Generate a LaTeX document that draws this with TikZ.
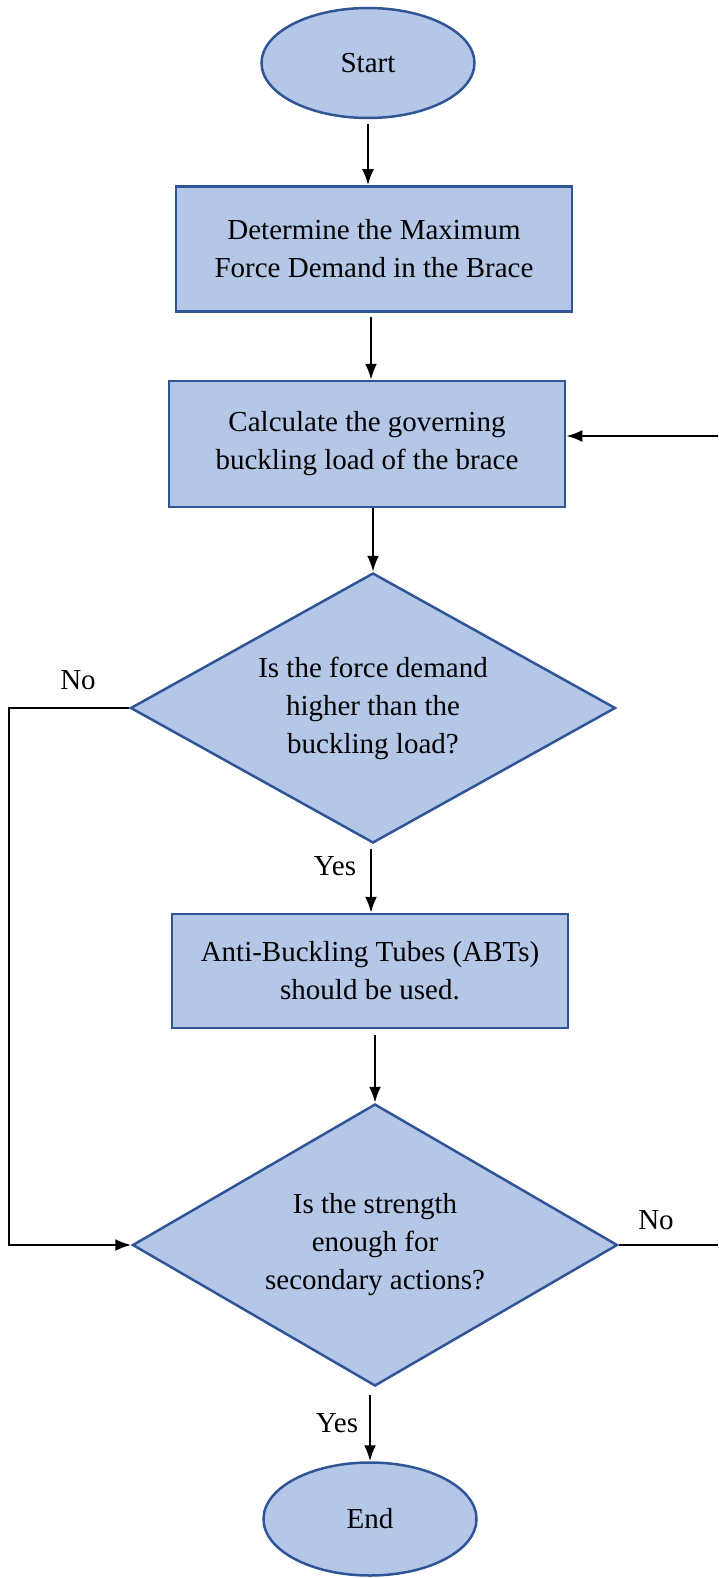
\documentclass[tikz,border=0pt]{standalone}
\usepackage{fontspec}
\setmainfont{Liberation Serif}
\usetikzlibrary{shapes.geometric,arrows.meta}
\definecolor{boxfill}{HTML}{B4C7E7}
\definecolor{boxline}{HTML}{2F5597}
\tikzset{
  flow/.style={draw=boxline, fill=boxfill, line width=2.5pt, align=center, inner sep=0pt},
  terminal/.style={flow, ellipse, minimum width=213pt, minimum height=110pt},
  process/.style={flow, rectangle, minimum width=396pt, minimum height=125pt},
  decision/.style={flow, diamond, aspect=1.8, minimum width=485pt, minimum height=270pt},
  arrow/.style={line width=2.3pt, -{Latex[length=16pt,width=12pt]}},
  link/.style={line width=2.3pt}
}
\begin{document}
\begin{tikzpicture}[x=1pt, y=-1pt, font=\fontsize{29}{38}\selectfont]
  \useasboundingbox (0,0) rectangle (718,1578);
  \node [terminal] (start) at (368,63) {Start};
  \node [process] (maxforce) at (374,249) {Determine the Maximum\\Force Demand in the Brace};
  \node [process, minimum height=126pt] (buckling) at (367,444) {Calculate the governing\\buckling load of the brace};
  \node [decision] (higher) at (373,708) {Is the force demand\\higher than the\\buckling load?};
  \node [process, minimum height=114pt] (abt) at (370,971) {Anti-Buckling Tubes (ABTs)\\should be used.};
  \node [decision, minimum height=282pt] (strength) at (375,1245) {Is the strength\\enough for\\secondary actions?};
  \node [terminal, minimum height=113pt] (end) at (370,1519) {End};
  \node (no1) at (78,680) {No};
  \node (yes1) at (335,866) {Yes};
  \node (no2) at (656,1220) {No};
  \node (yes2) at (337,1423) {Yes};
  \coordinate (leftturn) at (9,708);
  \coordinate (rightend) at (718,1245);
  \coordinate (rightback) at (718,436);
  \draw [arrow, shorten <=5pt] (start.south) -- (start.south |- maxforce.north);
  \draw [arrow, shorten <=4pt] (maxforce.south -| 371,0) -- (buckling.north -| 371,0);
  \draw [arrow] (buckling.south -| higher.north) -- (higher.north);
  \draw [arrow, shorten <=5pt] (higher.south -| 371,0) -- (abt.north -| 371,0);
  \draw [arrow, shorten <=6pt] (abt.south -| strength.north) -- (strength.north);
  \draw [arrow, shorten <=8pt] (strength.south -| end.north) -- (end.north);
  \draw [arrow] (higher.west) -- (leftturn) |- (strength.west);
  \draw [link] (strength.east) -- (rightend);
  \draw [arrow] (rightback) -- (rightback -| buckling.east);
\end{tikzpicture}
\end{document}
